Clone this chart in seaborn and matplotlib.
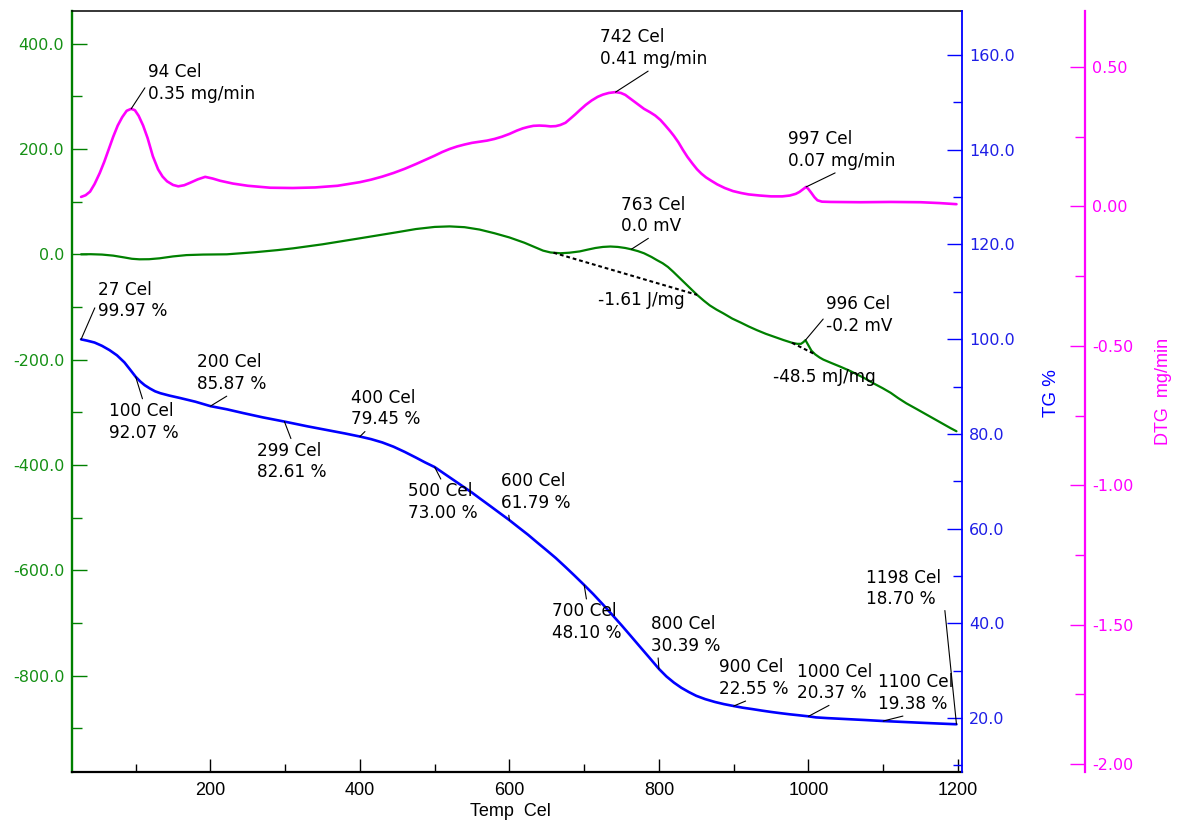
import numpy as np
import matplotlib
matplotlib.use("Agg")
import matplotlib.pyplot as plt
import seaborn as sns
from matplotlib import font_manager
from matplotlib.ticker import FixedLocator, MultipleLocator, FormatStrFormatter

# ---------------- data ----------------
# TG curve: residual mass (%) vs temperature (Cel)
tg_temp = [27, 35, 45, 55, 65, 75, 85, 92, 100, 106, 112, 119, 126, 133, 145, 159, 180,
           200, 222, 244, 270, 299, 330, 360, 380, 400, 415, 430, 445, 460, 475, 487,
           500, 512, 525, 537, 550, 562, 575, 587, 600, 612, 625, 637, 650, 662, 675,
           687, 700, 712, 725, 737, 750, 762, 775, 787, 800, 810, 820, 830, 840, 850,
           862, 875, 887, 900, 912, 925, 937, 950, 962, 975, 987, 1000, 1010, 1025,
           1050, 1075, 1100, 1125, 1150, 1175, 1198]
tg_pct = [99.97, 99.7, 99.3, 98.6, 97.7, 96.6, 95.1, 93.7, 92.07, 91.1, 90.3, 89.6, 89.0,
          88.6, 88.1, 87.6, 86.8, 85.87, 85.2, 84.4, 83.5, 82.61, 81.6, 80.7, 80.1, 79.45,
          78.9, 78.2, 77.3, 76.2, 75.0, 74.0, 73.00, 71.7, 70.3, 69.0, 67.6, 66.2, 64.7,
          63.3, 61.79, 60.3, 58.7, 57.1, 55.4, 53.8, 51.9, 50.1, 48.10, 46.2, 44.0, 41.9,
          39.6, 37.4, 35.0, 32.8, 30.39, 28.8, 27.5, 26.4, 25.5, 24.7, 24.0, 23.4, 22.95,
          22.55, 22.2, 21.9, 21.6, 21.3, 21.05, 20.8, 20.6, 20.37, 20.15, 20.0, 19.8, 19.6,
          19.38, 19.2, 19.02, 18.85, 18.70]

# DTA curve: signal (uV) vs temperature (Cel)
dta_temp = [27, 40, 55, 70, 85, 95, 105, 118, 132, 150, 168, 190, 222, 260, 290, 311,
            350, 400, 450, 475, 500, 520, 540, 560, 580, 600, 620, 635, 645, 655, 668,
            680, 694, 705, 715, 725, 735, 745, 755, 763, 772, 780, 790, 797, 805, 812,
            819, 827, 835, 843, 851, 860, 868, 877, 886, 898, 910, 920, 931, 943, 955,
            967, 978, 985, 990, 993, 996, 1000, 1004, 1009, 1015, 1020, 1030, 1042, 1055,
            1065, 1076, 1087, 1099, 1110, 1120, 1131, 1145, 1160, 1175, 1190, 1198]
dta_uv = [0, 0.2, -0.5, -2.5, -6, -8.5, -9.5, -9.3, -7.6, -4, -1.5, -0.5, 0, 4, 8, 11.4,
          19, 30.4, 42, 48, 52, 53, 51.5, 47, 40, 32, 22, 13, 7, 3.5, 2,
          3, 5.5, 9, 12, 14, 14.8, 14, 12, 9.5, 6, 2, -5, -10.8, -17, -24,
          -33, -44, -55, -66, -77, -88, -97, -105, -112, -122, -130, -137, -144, -151, -157,
          -163, -168, -170, -170, -167, -163, -173, -183, -190, -196, -200, -206, -213, -221,
          -228, -236, -245, -254, -263, -273, -283, -294, -306, -318, -330, -336]

# DTG curve: mass-loss rate (mg/min) vs temperature (Cel)
dtg_temp = [27, 33, 39, 45, 52, 58, 64, 70, 76, 82, 88, 94, 99, 104, 110, 116, 123, 130,
            136, 142, 150, 157, 165, 173, 183, 193, 203, 213, 230, 250, 280, 310, 340,
            370, 400, 415, 430, 445, 460, 475, 490, 500, 510, 520, 530, 540, 550, 560,
            570, 580, 590, 600, 610, 618, 625, 632, 640, 648, 655, 662, 668, 675, 682,
            688, 694, 702, 710, 718, 725, 733, 742, 749, 755, 760, 766, 773, 780, 788,
            795, 802, 808, 815, 820, 826, 832, 838, 845, 851, 857, 863, 870, 878, 888,
            899, 910, 920, 935, 950, 965, 975, 983, 988, 992, 997, 1000, 1004, 1008,
            1012, 1018, 1030, 1070, 1110, 1150, 1175, 1198]
dtg_rate = [0.034, 0.04, 0.053, 0.08, 0.12, 0.16, 0.205, 0.25, 0.29, 0.32, 0.343, 0.35,
            0.345, 0.325, 0.29, 0.245, 0.18, 0.133, 0.107, 0.09, 0.077, 0.072, 0.076, 0.085,
            0.097, 0.106, 0.10, 0.092, 0.082, 0.074, 0.067, 0.066, 0.068, 0.074, 0.087,
            0.096, 0.107, 0.12, 0.135, 0.152, 0.17, 0.182, 0.195, 0.206, 0.215, 0.222,
            0.228, 0.232, 0.236, 0.242, 0.25, 0.26, 0.272, 0.28, 0.285, 0.289, 0.29, 0.289,
            0.287, 0.288, 0.292, 0.30, 0.316, 0.33, 0.345, 0.364, 0.38, 0.393, 0.401, 0.407,
            0.41, 0.407, 0.40, 0.39, 0.378, 0.364, 0.35, 0.338, 0.326, 0.31, 0.292, 0.27,
            0.253, 0.23, 0.203, 0.178, 0.153, 0.133, 0.117, 0.104, 0.092, 0.079, 0.066,
            0.055, 0.048, 0.043, 0.039, 0.036, 0.036, 0.039, 0.045, 0.052, 0.06, 0.07,
            0.062, 0.048, 0.033, 0.022, 0.017, 0.016, 0.015, 0.016, 0.015, 0.012, 0.008]

# marked points
tg_mark_temp = [27, 100, 200, 299, 400, 500, 600, 700, 800, 900, 1000, 1100, 1198]
tg_mark_pct = [99.97, 92.07, 85.87, 82.61, 79.45, 73.00, 61.79, 48.10, 30.39, 22.55,
               20.37, 19.38, 18.70]
dtg_peak_temp = [94, 742, 997]
dtg_peak_rate = [0.35, 0.41, 0.07]
dta_peak_temp = [763, 996]
# DTA peak integration: baseline limits (Cel) and enthalpy
dta_base_start = [659, 978]
dta_base_end = [851, 1009]
dta_enthalpy = ["-1.61 J/mg", "-48.5 mJ/mg"]

# ---------------- style ----------------
sns.set_theme(style="white")


def first_font(candidates):
    for fam in candidates:
        try:
            font_manager.findfont(fam, fallback_to_default=False)
            return fam
        except ValueError:
            continue
    return "DejaVu Sans"


SANS = first_font(["Liberation Sans", "DejaVu Sans"])
plt.rcParams["font.family"] = ["DejaVu Sans"]
plt.rcParams["axes.unicode_minus"] = False

GREEN = "#008000"
GREEN_TXT = "#159015"
BLUE = "#0000ff"
BLUE_TXT = "#1e1ee6"
MAGENTA = "#ff00ff"

W, H = 1180, 823
fig = plt.figure(figsize=(W / 100, H / 100), dpi=100)
L, R, T, B = 72, 962, 11, 772
ax = fig.add_axes([L / W, 1 - B / H, (R - L) / W, (B - T) / H])
ax_tg = ax.twinx()
ax_dtg = ax.twinx()

# curves
sns.lineplot(x=dta_temp, y=dta_uv, ax=ax, color=GREEN, linewidth=1.6)
sns.lineplot(x=tg_temp, y=tg_pct, ax=ax_tg, color=BLUE, linewidth=1.9)
sns.lineplot(x=dtg_temp, y=dtg_rate, ax=ax_dtg, color=MAGENTA, linewidth=1.9)

# limits
ax.set_xlim(14.85, 1205.4)
ax.set_ylim(-983, 462)
ax_tg.set_ylim(8.62, 169.3)
ax_dtg.set_ylim(-2.0287, 0.7009)
for a in (ax, ax_tg, ax_dtg):
    a.set_xlabel("")
    a.set_ylabel("")

# spines
ax.spines["top"].set_color("black")
ax.spines["top"].set_linewidth(1.1)
ax.spines["bottom"].set_color("black")
ax.spines["bottom"].set_linewidth(1.6)
ax.spines["left"].set_color(GREEN)
ax.spines["left"].set_linewidth(1.7)
ax.spines["right"].set_visible(False)
for s in ("left", "top", "bottom"):
    ax_tg.spines[s].set_visible(False)
    ax_dtg.spines[s].set_visible(False)
ax_tg.spines["right"].set_color(BLUE)
ax_tg.spines["right"].set_linewidth(1.3)
ax_dtg.spines["right"].set_position(("axes", (1085 - L) / (R - L)))
ax_dtg.spines["right"].set_color(MAGENTA)
ax_dtg.spines["right"].set_linewidth(1.6)

# x axis
ax.xaxis.set_major_locator(FixedLocator(range(200, 1201, 200)))
ax.xaxis.set_minor_locator(MultipleLocator(100))
ax.xaxis.set_major_formatter(FormatStrFormatter("%d"))
ax.tick_params(axis="x", which="both", direction="in", bottom=True, top=False,
               colors="black", width=1.0, labelsize=13, pad=7.5,
               labelfontfamily=SANS)
ax.tick_params(axis="x", which="major", length=9.5)
ax.tick_params(axis="x", which="minor", length=6.0)

# DTA axis (left)
ax.yaxis.set_major_locator(FixedLocator(range(-800, 401, 200)))
ax.yaxis.set_minor_locator(MultipleLocator(100))
ax.yaxis.set_major_formatter(FormatStrFormatter("%.1f"))
ax.tick_params(axis="y", which="both", direction="in", left=True, right=False,
               color=GREEN, labelcolor=GREEN_TXT, width=1.0, labelsize=11.5, pad=5.5)
ax.tick_params(axis="y", which="major", length=10.8)
ax.tick_params(axis="y", which="minor", length=7.2)

# TG axis (right)
ax_tg.yaxis.set_major_locator(FixedLocator(range(20, 161, 20)))
ax_tg.yaxis.set_minor_locator(MultipleLocator(10))
ax_tg.yaxis.set_major_formatter(FormatStrFormatter("%.1f"))
ax_tg.tick_params(axis="y", which="both", direction="in", right=True, left=False,
                  color=BLUE, labelcolor=BLUE_TXT, width=1.0, labelsize=11.5, pad=5.0)
ax_tg.tick_params(axis="y", which="major", length=10.8)
ax_tg.tick_params(axis="y", which="minor", length=6.5)

# DTG axis (far right)
ax_dtg.yaxis.set_major_locator(FixedLocator([-2.0, -1.5, -1.0, -0.5, 0.0, 0.5]))
ax_dtg.yaxis.set_minor_locator(MultipleLocator(0.25))
ax_dtg.yaxis.set_major_formatter(FormatStrFormatter("%.2f"))
ax_dtg.tick_params(axis="y", which="both", direction="in", right=True, left=False,
                   color=MAGENTA, labelcolor=MAGENTA, width=1.0, labelsize=11.5, pad=5.0)
ax_dtg.tick_params(axis="y", which="major", length=10.8)
ax_dtg.tick_params(axis="y", which="minor", length=7.2)

# axis titles
fig.text(510 / W, 1 - 811 / H, "Temp  Cel", ha="center", va="center",
         fontsize=13, family=SANS, color="black")
fig.text(1051 / W, 1 - 393 / H, "TG %", ha="center", va="center", rotation=90,
         fontsize=13.5, family=SANS, color=BLUE)
fig.text(1163 / W, 1 - 391 / H, "DTG  mg/min", ha="center", va="center", rotation=90,
         fontsize=13, family=SANS, color=MAGENTA)

# ---------------- annotations ----------------
ANN_FS = 12.2


def note(axis, x, y, text, offset, rel):
    axis.annotate(text, xy=(x, y), xytext=offset, textcoords="offset pixels",
                  ha="left", va="center", fontsize=ANN_FS, family="DejaVu Sans",
                  linespacing=1.25, color="black", annotation_clip=False, zorder=5,
                  arrowprops=dict(arrowstyle="-", color="black", lw=0.8,
                                  shrinkA=0, shrinkB=0, relpos=rel))


# TG labels: text offset (px) and leader attachment on the text box
tg_offsets = [(17, 39), (-27, -45), (-13, 33), (-27, -40), (-9, 28), (-27, -35),
              (-8, 28), (-32, -37), (-8, 34), (-15, 28), (-11, 34), (-5, 28), (-90, 136)]
tg_relpos = [(0, 0.5), (0.5, 1), (0.5, 0), (0.5, 1), (0.25, 0), (0.5, 1),
             (0.1, 0), (0.5, 1), (0.1, 0), (0.5, 0), (0.5, 0), (0.5, 0), (1, 0.75)]
for t, p, off, rel in zip(tg_mark_temp, tg_mark_pct, tg_offsets, tg_relpos):
    note(ax_tg, t, p, f"{t} Cel\n{p:.2f} %", off, rel)

dtg_offsets = [(17, 26), (-16, 44), (-18, 37)]
dtg_relpos = [(0, 0.5), (0.5, 0), (0.5, 0)]
for t, r, off, rel in zip(dtg_peak_temp, dtg_peak_rate, dtg_offsets, dtg_relpos):
    note(ax_dtg, t, r, f"{t} Cel\n{r:.2f} mg/min", off, rel)

dta_offsets = [(-10, 34), (21, 25)]
dta_relpos = [(0.5, 0), (0, 0.5)]
for t, off, rel in zip(dta_peak_temp, dta_offsets, dta_relpos):
    v = float(np.interp(t, dta_temp, dta_uv))
    note(ax, t, v, f"{t} Cel\n{v / 1000:.1f} mV", off, rel)

# peak integration baselines and enthalpies
ent_pos = [(718.3, -86.8), (953.0, -232.4)]
for t0, t1, lab, pos in zip(dta_base_start, dta_base_end, dta_enthalpy, ent_pos):
    xs = [t0, t1]
    ys = list(np.interp(xs, dta_temp, dta_uv))
    ax.plot(xs, ys, color="black", linewidth=1.5, linestyle=(0, (1.8, 1.4)), zorder=4)
    ax.text(pos[0], pos[1], lab, ha="left", va="center", fontsize=ANN_FS,
            family="DejaVu Sans", color="black")

fig.savefig("out.png", dpi=100)
